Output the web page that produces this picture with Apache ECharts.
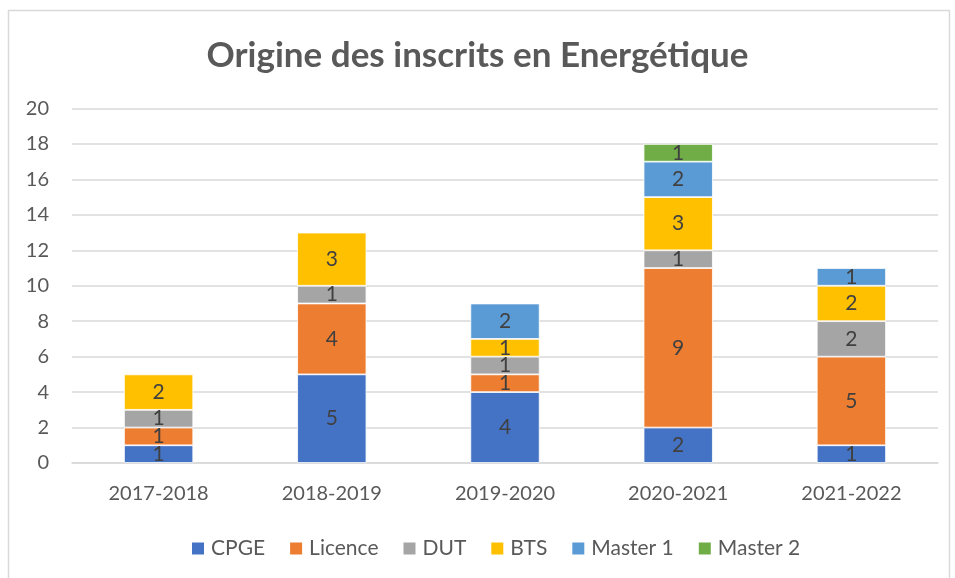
<!DOCTYPE html>
<html><head><meta charset="utf-8">
<script src="https://cdn.jsdelivr.net/npm/echarts@6/dist/echarts.min.js"></script>
<style>html,body{margin:0;padding:0;background:#fff}#c{width:955px;height:578px}</style>
</head><body><div id="c"></div>
<script>
const categories = ['2017-2018','2018-2019','2019-2020','2020-2021','2021-2022'];
const seriesNames = ['CPGE','Licence','DUT','BTS','Master 1','Master 2'];
const cpge    = [1,5,4,2,1];
const licence = [1,4,1,9,5];
const dut     = [1,1,1,1,2];
const bts     = [2,3,1,3,2];
const master1 = [0,0,2,2,1];
const master2 = [0,0,0,1,0];
const colors = ['#4472C4','#ED7D31','#A5A5A5','#FFC000','#5B9BD5','#70AD47'];
const values = [cpge, licence, dut, bts, master1, master2];
const FONT = 'Lato, "Open Sans", sans-serif';

const chart = echarts.init(document.getElementById('c'), null, {renderer:'canvas'});
chart.setOption({
  animation:false,
  backgroundColor:'#fff',
  color: colors,
  title:{text:'Origine des inscrits en Energétique', left:'center', top:33,
    textStyle:{fontFamily:FONT, fontSize:35, fontWeight:'bold', color:'#595959'}},
  graphic:[{type:'rect', shape:{x:8.5,y:10.5,width:941,height:580}, style:{fill:'none', stroke:'#D9D9D9', lineWidth:1.5}, silent:true}],
  legend:{bottom:14, left:185, itemWidth:14, itemHeight:14, itemGap:23, icon:'rect',
    textStyle:{fontFamily:FONT, fontSize:21, color:'#595959', padding:[0,0,0,1]}},
  grid:{left:72, right:17, top:108.5, bottom:115, containLabel:false},
  xAxis:{type:'category', data:categories,
    axisLine:{lineStyle:{color:'#D9D9D9', width:1.5}}, axisTick:{show:false},
    axisLabel:{fontFamily:FONT, fontSize:20, color:'#595959', margin:21}},
  yAxis:{type:'value', min:0, max:20, interval:2,
    axisLine:{show:false}, axisTick:{show:false},
    splitLine:{lineStyle:{color:'#D9D9D9', width:1.5}},
    axisLabel:{fontFamily:FONT, fontSize:20, color:'#595959', margin:23}},
  series: seriesNames.map((n,i)=>({
    name:n, type:'bar', stack:'total', barWidth:'40%',
    data: values[i].map(v=> v===0 ? null : v),
    itemStyle:{borderColor:'#fff', borderWidth:0.8},
    label:{show:true, position:'inside', fontFamily:FONT, fontSize:21, color:'#404040',
      formatter:p=> p.value ? String(p.value) : ''}
  }))
});
</script></body></html>
